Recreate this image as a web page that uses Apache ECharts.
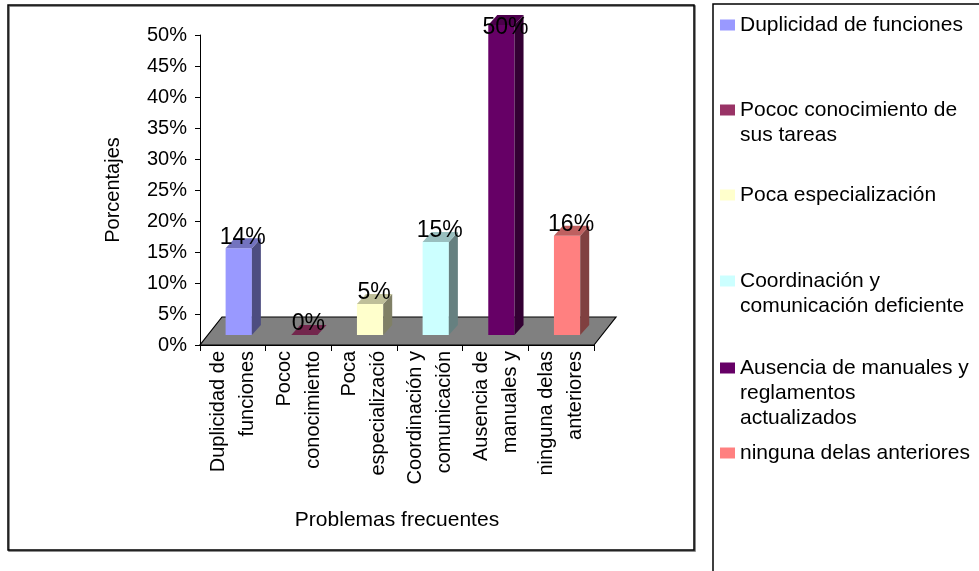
<!DOCTYPE html>
<html>
<head>
<meta charset="utf-8">
<script src="https://cdn.jsdelivr.net/npm/echarts@6/dist/echarts.min.js"></script>
<style>
  html, body { margin: 0; padding: 0; background: #fff; }
  #chart { width: 979px; height: 571px; }
</style>
</head>
<body>
<div id="chart"></div>
<script>
// Survey categories (full names shown in the legend)
const categories = [
  'Duplicidad de funciones',
  'Pococ conocimiento de sus tareas',
  'Poca especialización',
  'Coordinación y comunicación deficiente',
  'Ausencia de manuales y reglamentos actualizados',
  'ninguna delas anteriores'
];
// Category axis labels as they appear under the floor (two lines, clipped)
const axisLabels = [
  'Duplicidad de\nfunciones',
  'Pococ\nconocimiento',
  'Poca\nespecializació',
  'Coordinación y\ncomunicación',
  'Ausencia de\nmanuales y',
  'ninguna delas\nanteriores'
];
// Legend text broken into lines
const legendLines = [
  ['Duplicidad de funciones'],
  ['Pococ conocimiento de', 'sus tareas'],
  ['Poca especialización'],
  ['Coordinación y', 'comunicación deficiente'],
  ['Ausencia de manuales y', 'reglamentos', 'actualizados'],
  ['ninguna delas anteriores']
];
// Share of answers per problem
const values = [0.14, 0, 0.05, 0.15, 0.50, 0.16];
// Value axis range
const yMin = 0;
const yMax = 0.5;
const yStep = 0.05;

const frontColors = ['#9999FF', '#993366', '#FFFFCC', '#CCFFFF', '#660066', '#FF8080'];

const FONT = '"Liberation Sans", Arial, sans-serif';
const TXT = 20;                      // axis font size
const LEG_TXT = 21;                  // legend / axis-title font size
const LH = 25;                       // legend line height
const legendCenters = [25, 110, 195, 281, 368, 453];

function shade(hex, k) {
  const n = parseInt(hex.slice(1), 16);
  const r = Math.round(((n >> 16) & 255) * k);
  const g = Math.round(((n >> 8) & 255) * k);
  const b = Math.round((n & 255) * k);
  return 'rgb(' + r + ',' + g + ',' + b + ')';
}

const DEPTH_X = 9, DEPTH_Y = 10;     // bar depth in px
const LIFT = 10;                     // bars stand 10px back on the floor
const FLOOR_DX = 22, FLOOR_DY = 28;  // floor depth

function pct(v) { return Math.round(v * 100) + '%'; }

// 3D column drawn from the category/value scales
function barRenderer(color) {
  const sideC = shade(color, 0.5);
  const topC = shade(color, 0.75);
  return function (params, api) {
    const idx = api.value(0);
    const v = api.value(1);
    const base = api.coord([idx, 0]);
    const top = api.coord([idx, v]);
    const axisTop = api.coord([idx, yMax])[1];
    const band = api.size([1, 0])[0];
    const w = band * 0.4;
    const cx = base[0] + band * 0.09;
    const x0 = cx - w / 2, x1 = cx + w / 2;
    const yb = base[1] - LIFT;
    const yt = top[1] - LIFT;
    const children = [];
    if (yb - yt > 0.5) {
      children.push({
        type: 'rect',
        shape: { x: x0, y: yt, width: w, height: yb - yt },
        style: { fill: color }
      });
      children.push({
        type: 'polygon',
        shape: { points: [[x1, yt], [x1 + DEPTH_X, yt - DEPTH_Y], [x1 + DEPTH_X, yb - DEPTH_Y], [x1, yb]] },
        style: { fill: sideC }
      });
    }
    children.push({
      type: 'polygon',
      shape: { points: [[x0, yt], [x1, yt], [x1 + DEPTH_X, yt - DEPTH_Y], [x0 + DEPTH_X, yt - DEPTH_Y]] },
      style: { fill: topC }
    });
    children.push({
      type: 'text',
      z2: 10,
      style: {
        text: pct(v),
        x: cx + 4,
        y: Math.max(yt - 11, axisTop - 7),
        align: 'center',
        verticalAlign: 'middle',
        fontFamily: FONT,
        fontSize: 23,
        fill: '#000'
      }
    });
    return { type: 'group', children: children };
  };
}

// Grey floor under the columns
function floorRenderer(params, api) {
  const band = api.size([1, 0])[0];
  const left = api.coord([0, 0]);
  const right = api.coord([categories.length - 1, 0]);
  const xl = left[0] - band / 2;
  const xr = right[0] + band / 2;
  const y = left[1];
  return {
    type: 'polygon',
    shape: { points: [[xl, y], [xr, y], [xr + FLOOR_DX, y - FLOOR_DY], [xl + FLOOR_DX, y - FLOOR_DY]] },
    style: { fill: '#808080', stroke: '#000', lineWidth: 1.2 }
  };
}

const series = [{
  type: 'custom',
  name: 'floor',
  clip: false,
  z: 1,
  data: [[0, 0]],
  encode: { x: 0, y: 1 },
  renderItem: floorRenderer,
  silent: true
}];
categories.forEach(function (name, i) {
  series.push({
    type: 'custom',
    name: name,
    clip: false,
    z: 2,
    color: frontColors[i],
    data: [[i, values[i]]],
    encode: { x: 0, y: 1 },
    renderItem: barRenderer(frontColors[i])
  });
});

// One legend block per item; leading blank lines keep the swatch on the first text line
const legends = categories.map(function (name, i) {
  const n = legendLines[i].length;
  const text = new Array(n).join('\n') + legendLines[i].join('\n');
  return {
    data: [name],
    left: 720,
    top: legendCenters[i] - (2 * n - 1) * LH / 2,
    padding: 0,
    icon: 'rect',
    itemWidth: 15,
    itemHeight: 11,
    selectedMode: false,
    formatter: function () { return text; },
    textStyle: {
      fontFamily: FONT,
      fontSize: LEG_TXT,
      lineHeight: LH,
      color: '#000'
    }
  };
});

const chart = echarts.init(document.getElementById('chart'), null, { renderer: 'canvas' });
chart.setOption({
  animation: false,
  backgroundColor: '#fff',
  textStyle: { fontFamily: FONT },
  graphic: [
    {
      type: 'rect',
      shape: { x: 8, y: 5, width: 686, height: 545 },
      style: { fill: 'none', stroke: '#000', lineWidth: 1.5, shadowColor: 'rgba(0,0,0,0.6)', shadowOffsetX: 1, shadowOffsetY: 1 },
      silent: true, z: -10
    },
    {
      type: 'rect',
      shape: { x: 713, y: 4, width: 300, height: 620 },
      style: { fill: 'none', stroke: '#000', lineWidth: 1.5 },
      silent: true, z: -10
    }
  ],
  grid: { left: 200, top: 35, bottom: 226, right: 385, containLabel: false },
  xAxis: {
    type: 'category',
    data: categories,
    boundaryGap: true,
    name: 'Problemas frecuentes',
    nameLocation: 'middle',
    nameGap: 165,
    nameTextStyle: { fontFamily: FONT, fontSize: LEG_TXT, color: '#000' },
    axisLine: { show: true, lineStyle: { color: '#000', width: 1 } },
    axisTick: { show: true, length: 6, lineStyle: { color: '#000' } },
    axisLabel: {
      interval: 0,
      rotate: 90,
      margin: 6,
      fontFamily: FONT,
      fontSize: TXT,
      lineHeight: 29,
      color: '#000',
      formatter: function (v, idx) { return axisLabels[idx]; }
    },
    splitLine: { show: false }
  },
  yAxis: {
    type: 'value',
    min: yMin,
    max: yMax,
    interval: yStep,
    name: 'Porcentajes',
    nameLocation: 'middle',
    nameGap: 77,
    nameTextStyle: { fontFamily: FONT, fontSize: TXT, color: '#000' },
    axisLine: { show: true, lineStyle: { color: '#000', width: 1 } },
    axisTick: { show: true, length: 5, lineStyle: { color: '#000' } },
    axisLabel: { margin: 13, fontFamily: FONT, fontSize: TXT, color: '#000', formatter: pct },
    splitLine: { show: false }
  },
  legend: legends,
  series: series
});
</script>
</body>
</html>
